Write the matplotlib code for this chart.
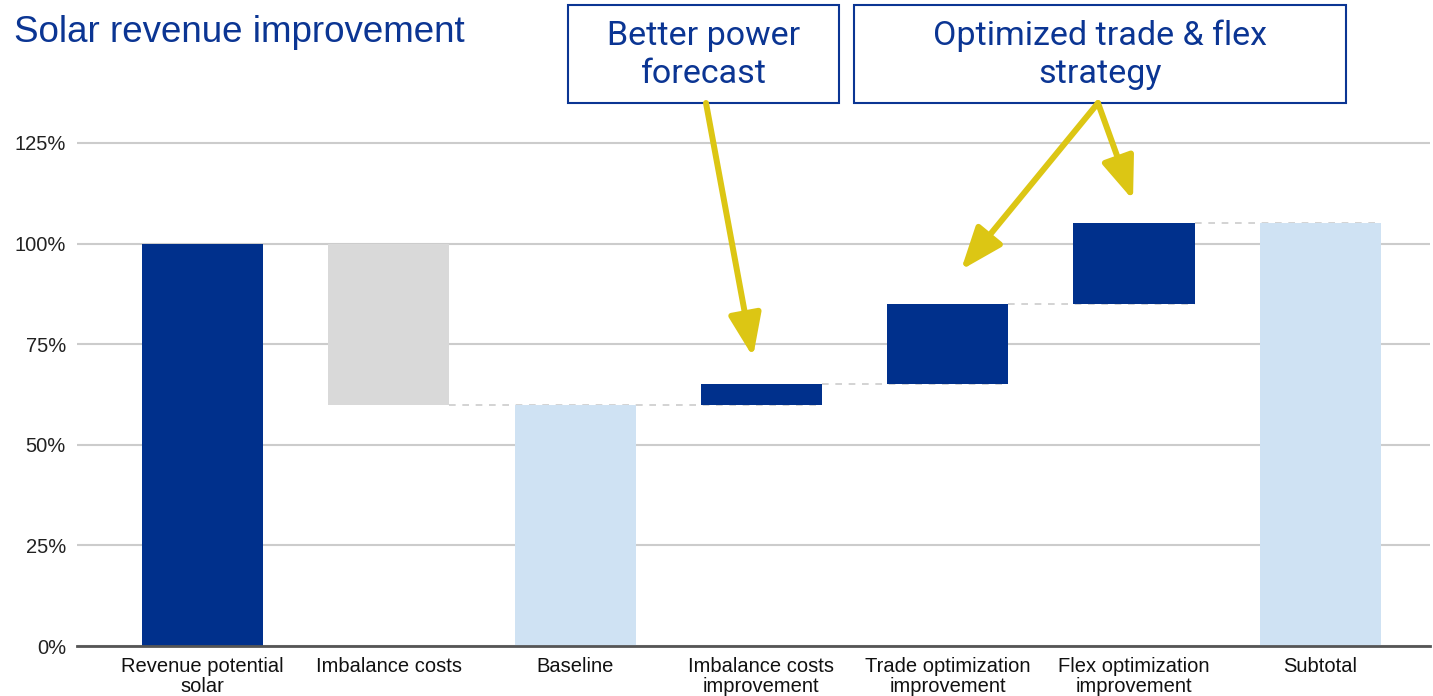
import matplotlib.pyplot as plt
from matplotlib.patches import FancyArrowPatch
import matplotlib.ticker as mticker

categories = ["Revenue potential\nsolar", "Imbalance costs", "Baseline",
              "Imbalance costs\nimprovement", "Trade optimization\nimprovement",
              "Flex optimization\nimprovement", "Subtotal"]
bar_bottom = [0, 60, 0, 60, 65, 85, 0]
bar_top = [100, 100, 60, 65, 85, 105, 105]
bar_kind = ["total", "neg", "sub", "pos", "pos", "pos", "sub"]
yticks = [0, 25, 50, 75, 100, 125]

colors = {"total": "#00308c", "pos": "#00308c", "neg": "#d9d9d9", "sub": "#cfe2f3"}
navy = "#0b3593"
yellow = "#dcc614"

fig = plt.figure(figsize=(14.33, 6.96), dpi=100)
ax = fig.add_axes([77 / 1433, 50 / 696, 1353 / 1433, 551 / 696])

x = list(range(len(categories)))
w = 0.65
heights = [t - b for t, b in zip(bar_top, bar_bottom)]
ax.bar(x, heights, bottom=bar_bottom, width=w,
       color=[colors[k] for k in bar_kind], zorder=3)

# dashed connectors between consecutive bars
ends = [100, 60, 60, 65, 85, 105]
for i, lvl in enumerate(ends):
    ax.plot([i + w / 2, i + 1 + w / 2], [lvl, lvl], ls=(0, (4, 4)),
            color="#cccccc", lw=1.2, zorder=2)

ax.set_xlim(-0.674, 6.589)
ax.set_ylim(0, 136.9)
ax.set_yticks(yticks)
ax.yaxis.set_major_formatter(mticker.FuncFormatter(lambda v, p: f"{v:.0f}%"))
ax.grid(axis="y", color="#cccccc", lw=1.5, zorder=0)
for s in ["top", "right", "left"]:
    ax.spines[s].set_visible(False)
ax.spines["bottom"].set_color("#555555")
ax.spines["bottom"].set_linewidth(2)
ax.spines["bottom"].set_zorder(4)
ax.tick_params(axis="y", length=0, labelsize=14.5, pad=8, labelcolor="#222222")
ax.tick_params(axis="x", length=0, labelsize=14.5, pad=8, labelcolor="#111111")
ax.set_xticks(x)
ax.set_xticklabels(categories, linespacing=1.05,
                   family=["Liberation Sans Narrow", "Liberation Sans", "DejaVu Sans"])
for lab in ax.get_yticklabels():
    lab.set_family(["Liberation Sans", "DejaVu Sans"])

fig.text(14 / 1433, 1 - 33 / 696, "Solar revenue improvement", fontsize=26.5,
         color=navy, va="center", ha="left", family=["Liberation Sans", "DejaVu Sans"])

# callout boxes
def callout(x0, x1, txt):
    r = plt.Rectangle((x0 / 1433, 1 - 103 / 696), (x1 - x0) / 1433, 98 / 696,
                      transform=fig.transFigure, fill=False, ec=navy, lw=1.5)
    fig.add_artist(r)
    fig.text((x0 + x1) / 2 / 1433, 1 - 55 / 696, txt, ha="center", va="center",
             fontsize=24.5, color=navy, linespacing=1.25, family=["Roboto", "DejaVu Sans"])

callout(568, 839, "Better power\nforecast")
callout(854, 1346, "Optimized trade & flex\nstrategy")

def arrow(p0, p1):
    a = FancyArrowPatch((p0[0] / 1433, 1 - p0[1] / 696), (p1[0] / 1433, 1 - p1[1] / 696),
                        transform=fig.transFigure, arrowstyle="-|>,head_length=26,head_width=10",
                        color=yellow, lw=4.3, shrinkA=0, shrinkB=0)
    fig.add_artist(a)

arrow((706, 103), (753, 357))
arrow((1098, 103), (961, 270))
arrow((1098, 103), (1133, 200))

fig.savefig("out.png", dpi=100)
